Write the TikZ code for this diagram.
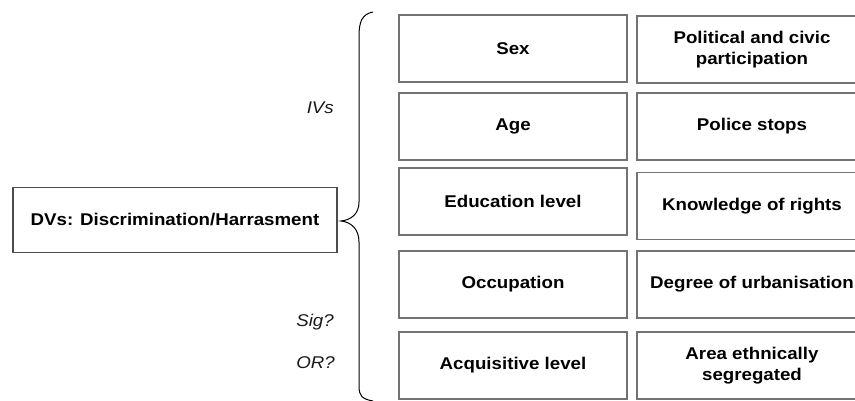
\documentclass[tikz,border=0pt]{standalone}
\usepackage{fontspec}
\setmainfont{Liberation Sans}[FakeStretch=1.1]
\usetikzlibrary{positioning}
\tikzset{
  ivbox/.style={ % box of one independent variable
    draw=black!55, line width=1.2pt, rectangle,
    minimum width=228pt, minimum height=67pt,
    inner sep=2pt, outer sep=0pt, align=center, text=black,
    font=\fontsize{17}{20.5}\selectfont\bfseries
  },
  ctxbox/.style={ % box of the second column
    ivbox, minimum width=230pt
  },
  dvbox/.style={ % box of the dependent variable
    draw=black!70, line width=1.2pt, rectangle,
    minimum width=324pt, minimum height=65pt,
    inner sep=2pt, outer sep=0pt, text=black,
    font=\fontsize{17}{20.5}\selectfont\bfseries
  },
  note/.style={ % italic remark left of the brace
    anchor=east, inner sep=0pt, text=black!90,
    font=\fontsize{17}{20.5}\selectfont\itshape
  },
  brace/.style={
    draw=black, line width=1pt
  }
}

\begin{document}
\begin{tikzpicture}[x=1pt, y=-1pt]
    \useasboundingbox (0,0) rectangle (855,400);

    \node[dvbox] (dv) at (175,220) {DVs: Discrimination/Harrasment};

    \node[ivbox] (sex) at (513,48.5) {Sex};
    \node[ivbox, below=11pt of sex] (age) {Age};
    \node[ivbox, below=8pt of age] (edu) {Education level};
    \node[ivbox, below=16pt of edu] (occ) {Occupation};
    \node[ivbox, below=14pt of occ] (acq) {Acquisitive level};

    \node[ctxbox, right=10pt of sex, yshift=-1pt] (pol) {Political and civic\\participation};
    \node[ctxbox, right=10pt of age] (police) {Police stops};
    \node[ctxbox, right=10pt of edu, yshift=-4.5pt] (rights) {Knowledge of rights};
    \node[ctxbox, right=10pt of occ] (urban) {Degree of urbanisation};
    \node[ctxbox, right=10pt of acq] (segr) {Area ethnically\\segregated};

    \node[note] (ivs) at (334,108) {IVs};
    \node[note] (sig) at (334,322) {Sig?};
    \node[note] (odds) at (335,363) {OR?};

    % the brace joining the DV to all the IVs
    \coordinate (tip) at ([xshift=4pt,yshift=-1pt]dv.east);
    \draw[brace] (373,12) .. controls (362,14) and (359,22) .. (359,36)
      -- (359,202) .. controls (359,214) and (351,220) .. (tip)
      .. controls (351,222) and (359,229) .. (359,242)
      -- (359,386) .. controls (359,396) and (362,399) .. (373,401);
\end{tikzpicture}
\end{document}
